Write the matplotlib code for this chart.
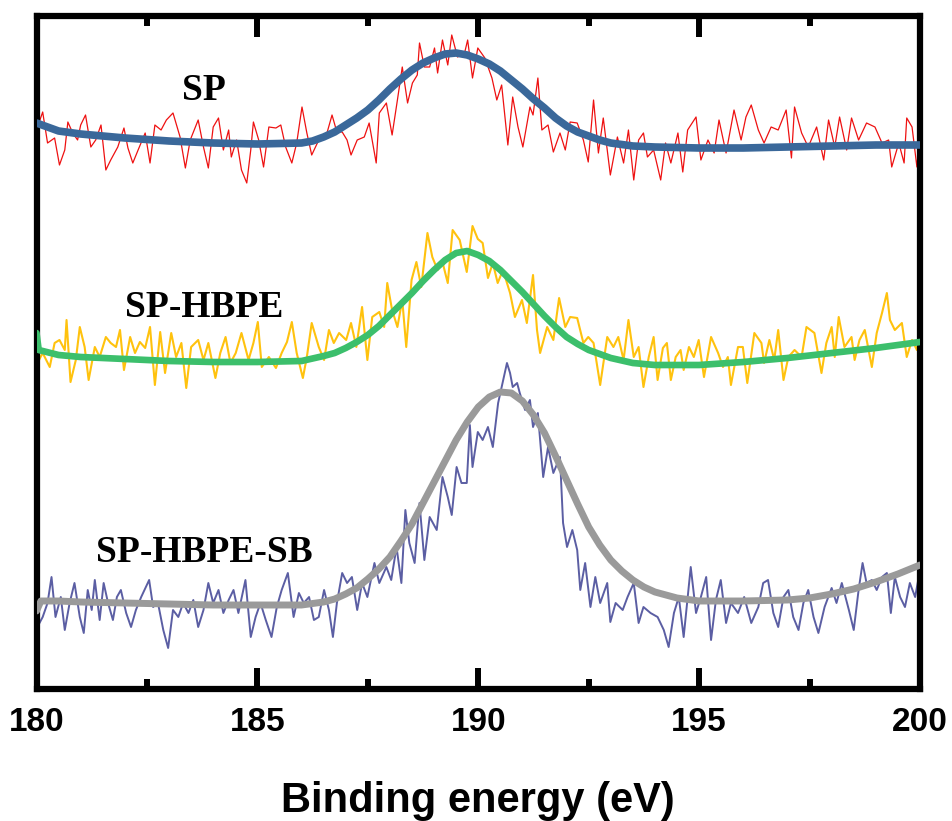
import matplotlib
matplotlib.use('Agg')
import matplotlib.pyplot as plt
from matplotlib.ticker import MultipleLocator
import numpy as np

# B 1s spectra, intensity in arbitrary units (traces stacked with offsets)

# SP raw trace
sp_e = [180.00, 180.14, 180.25, 180.41, 180.52, 180.64, 180.71, 180.82, 180.93, 181.00,
        181.11, 181.23, 181.34, 181.46, 181.57, 181.68, 181.84, 181.98, 182.07, 182.18,
        182.30, 182.46, 182.57, 182.68, 182.82, 182.94, 183.09, 183.25, 183.37, 183.48,
        183.66, 183.78, 183.89, 184.00, 184.12, 184.23, 184.35, 184.41, 184.53, 184.64,
        184.76, 184.85, 184.91, 185.03, 185.14, 185.26, 185.42, 185.53, 185.64, 185.78,
        185.89, 186.01, 186.12, 186.23, 186.39, 186.55, 186.69, 186.80, 186.92, 187.03,
        187.12, 187.26, 187.42, 187.53, 187.69, 187.76, 187.92, 188.05, 188.17, 188.28,
        188.40, 188.51, 188.62, 188.67, 188.78, 188.90, 189.01, 189.08, 189.19, 189.31,
        189.40, 189.53, 189.69, 189.76, 189.87, 189.99, 190.15, 190.31, 190.42, 190.53,
        190.67, 190.78, 190.90, 191.01, 191.17, 191.24, 191.35, 191.44, 191.58, 191.70,
        191.85, 191.97, 192.08, 192.24, 192.38, 192.49, 192.61, 192.72, 192.83, 192.99,
        193.15, 193.29, 193.40, 193.52, 193.63, 193.74, 193.83, 193.97, 194.13, 194.24,
        194.36, 194.52, 194.63, 194.74, 194.93, 195.04, 195.20, 195.34, 195.45, 195.61,
        195.79, 195.95, 196.06, 196.18, 196.34, 196.47, 196.63, 196.79, 196.97, 197.09,
        197.16, 197.32, 197.47, 197.66, 197.82, 197.93, 198.07, 198.18, 198.34, 198.45,
        198.61, 198.79, 198.98, 199.14, 199.29, 199.36, 199.52, 199.64, 199.70, 199.82,
        199.93, 200.00]
sp_y = [559, 577, 546, 551, 524, 539, 567, 556, 549, 564,
        574, 542, 549, 564, 519, 529, 542, 561, 541, 526,
        539, 556, 526, 564, 559, 569, 576, 552, 521, 549,
        569, 542, 521, 562, 571, 539, 559, 532, 549, 519,
        506, 539, 567, 549, 522, 562, 561, 564, 542, 526,
        546, 582, 556, 534, 549, 552, 574, 557, 557, 549,
        534, 549, 552, 566, 526, 576, 586, 554, 589, 622,
        586, 606, 614, 646, 622, 622, 641, 616, 649, 624,
        654, 632, 636, 649, 611, 641, 631, 611, 589, 604,
        544, 592, 562, 542, 582, 574, 611, 559, 564, 537,
        556, 539, 567, 566, 549, 527, 589, 536, 571, 514,
        552, 526, 559, 509, 549, 556, 532, 539, 509, 546,
        526, 556, 517, 559, 572, 529, 549, 536, 569, 536,
        579, 549, 572, 584, 559, 546, 562, 559, 579, 531,
        582, 556, 542, 562, 529, 569, 542, 572, 539, 571,
        549, 566, 562, 546, 549, 522, 546, 526, 571, 562,
        522, 557]

# SP fitted curve
sp_fit_e = [180, 180.5, 181, 182, 183, 184, 185, 186, 186.25, 186.5, 186.75,
            187, 187.25, 187.5, 187.75, 188, 188.25, 188.5, 188.75, 189, 189.25,
            189.5, 189.75, 190, 190.25, 190.5, 190.75, 191, 191.25, 191.5, 191.75,
            192, 192.25, 192.5, 192.75, 193, 193.5, 194, 195, 196, 197, 198, 199, 200]
sp_fit_y = [566, 558, 555, 551, 548, 546, 545, 546, 548, 552, 557,
            564, 571, 579, 589, 600, 610, 619, 626, 631, 635,
            636, 634, 630, 625, 618, 609, 600, 590, 581, 571,
            563, 557, 553, 549, 546, 543, 542, 541, 541, 542, 543, 544, 544]

# SP-HBPE raw trace
hb_e = [180.02, 180.14, 180.30, 180.41, 180.52, 180.64, 180.68, 180.77, 180.89, 180.98,
        181.09, 181.18, 181.32, 181.43, 181.57, 181.68, 181.80, 181.89, 181.98, 182.12,
        182.23, 182.34, 182.46, 182.57, 182.68, 182.80, 182.91, 183.05, 183.16, 183.28,
        183.39, 183.50, 183.66, 183.78, 183.89, 184.05, 184.16, 184.28, 184.39, 184.51,
        184.64, 184.80, 184.91, 185.01, 185.10, 185.26, 185.42, 185.55, 185.67, 185.78,
        185.89, 186.03, 186.12, 186.23, 186.39, 186.51, 186.62, 186.73, 186.85, 187.01,
        187.12, 187.24, 187.37, 187.49, 187.60, 187.76, 187.87, 187.94, 188.05, 188.17,
        188.28, 188.37, 188.49, 188.60, 188.71, 188.85, 188.96, 189.08, 189.19, 189.31,
        189.42, 189.58, 189.74, 189.87, 189.99, 190.10, 190.22, 190.33, 190.44, 190.56,
        190.72, 190.83, 190.99, 191.10, 191.24, 191.33, 191.40, 191.56, 191.70, 191.83,
        191.97, 192.08, 192.24, 192.38, 192.49, 192.61, 192.76, 192.92, 193.06, 193.17,
        193.29, 193.40, 193.52, 193.63, 193.74, 193.86, 193.97, 194.06, 194.18, 194.27,
        194.36, 194.47, 194.58, 194.65, 194.77, 194.88, 194.99, 195.11, 195.27, 195.43,
        195.54, 195.65, 195.72, 195.88, 195.99, 196.09, 196.25, 196.41, 196.47, 196.59,
        196.70, 196.79, 196.91, 197.02, 197.16, 197.32, 197.43, 197.61, 197.77, 197.88,
        198.00, 198.07, 198.16, 198.29, 198.45, 198.52, 198.63, 198.75, 198.91, 199.02,
        199.14, 199.25, 199.32, 199.43, 199.59, 199.70, 199.82, 199.93, 200.00]
hb_y = [326, 336, 322, 346, 349, 339, 369, 307, 329, 362,
        342, 309, 342, 332, 352, 346, 342, 359, 319, 352,
        336, 347, 341, 362, 304, 357, 316, 356, 332, 346,
        301, 342, 349, 329, 346, 311, 336, 352, 326, 336,
        356, 329, 346, 367, 322, 332, 321, 336, 347, 367,
        336, 311, 332, 366, 342, 329, 359, 346, 356, 349,
        366, 342, 382, 329, 372, 377, 362, 406, 379, 362,
        389, 342, 409, 427, 402, 456, 432, 419, 427, 406,
        459, 449, 417, 463, 450, 446, 411, 426, 406, 419,
        396, 372, 389, 366, 414, 359, 336, 362, 349, 391,
        362, 372, 371, 346, 352, 346, 304, 352, 342, 352,
        329, 369, 332, 342, 302, 332, 352, 309, 341, 346,
        309, 332, 339, 319, 342, 332, 349, 312, 352, 336,
        322, 332, 304, 342, 342, 306, 356, 346, 326, 349,
        329, 359, 309, 332, 339, 332, 362, 356, 316, 346,
        362, 332, 372, 342, 352, 329, 349, 359, 322, 356,
        376, 396, 369, 359, 366, 332, 349, 339, 356]

# SP-HBPE fitted curve
hb_fit_e = [180, 180.05, 180.5, 181, 182, 183, 184, 185, 186, 186.5, 186.75,
            187, 187.25, 187.5, 187.75, 188, 188.25, 188.5, 188.75, 189, 189.25,
            189.5, 189.75, 190, 190.25, 190.5, 190.75, 191, 191.25, 191.5, 191.75,
            192, 192.25, 192.5, 192.75, 193, 193.5, 194, 195, 196, 197, 198, 199, 200]
hb_fit_y = [356, 339, 334, 332, 330, 328, 327, 327, 328, 333, 336,
            341, 347, 354, 363, 374, 385, 396, 408, 419, 429,
            436, 438, 434, 428, 419, 408, 397, 385, 373, 362,
            352, 345, 339, 335, 331, 326, 324, 324, 327, 331, 336, 341, 347]

# SP-HBPE-SB raw trace
sb_e = [180.02, 180.14, 180.25, 180.34, 180.43, 180.55, 180.64, 180.75, 180.86, 180.98,
        181.07, 181.16, 181.25, 181.32, 181.43, 181.52, 181.62, 181.73, 181.82, 181.91,
        182.03, 182.14, 182.25, 182.37, 182.55, 182.64, 182.75, 182.87, 182.98, 183.09,
        183.21, 183.32, 183.44, 183.55, 183.66, 183.78, 183.89, 184.00, 184.12, 184.23,
        184.35, 184.46, 184.57, 184.73, 184.85, 184.96, 185.07, 185.19, 185.32, 185.44,
        185.55, 185.69, 185.82, 185.94, 186.05, 186.17, 186.28, 186.39, 186.51, 186.62,
        186.71, 186.80, 186.92, 187.03, 187.14, 187.26, 187.37, 187.49, 187.65, 187.76,
        187.92, 188.03, 188.15, 188.26, 188.35, 188.44, 188.56, 188.67, 188.78, 188.90,
        189.06, 189.19, 189.31, 189.40, 189.51, 189.62, 189.74, 189.81, 189.87, 189.99,
        190.10, 190.22, 190.33, 190.45, 190.53, 190.65, 190.72, 190.78, 190.88, 190.94,
        191.06, 191.17, 191.24, 191.35, 191.47, 191.58, 191.70, 191.85, 191.92, 192.01,
        192.13, 192.24, 192.31, 192.42, 192.54, 192.65, 192.76, 192.92, 192.99, 193.11,
        193.27, 193.38, 193.52, 193.63, 193.74, 193.90, 194.06, 194.20, 194.31, 194.43,
        194.54, 194.65, 194.81, 194.93, 195.04, 195.16, 195.27, 195.38, 195.49, 195.61,
        195.72, 195.88, 196.02, 196.18, 196.34, 196.45, 196.56, 196.68, 196.79, 196.91,
        197.02, 197.13, 197.25, 197.36, 197.47, 197.59, 197.70, 197.84, 198.00, 198.11,
        198.23, 198.39, 198.50, 198.61, 198.70, 198.79, 198.91, 199.02, 199.14, 199.25,
        199.34, 199.43, 199.55, 199.66, 199.77, 199.89, 200.00]
sb_y = [62, 72, 86, 112, 72, 92, 59, 86, 106, 72,
        56, 99, 79, 109, 69, 106, 86, 69, 92, 99,
        76, 62, 79, 92, 109, 82, 86, 59, 41, 79,
        72, 86, 76, 89, 62, 79, 106, 86, 99, 76,
        89, 99, 76, 109, 52, 72, 86, 69, 52, 82,
        99, 116, 72, 96, 86, 92, 69, 72, 99, 79,
        52, 86, 116, 106, 112, 79, 106, 92, 126, 106,
        122, 109, 142, 106, 179, 146, 126, 186, 129, 172,
        159, 212, 192, 174, 222, 206, 206, 264, 222, 257,
        249, 262, 242, 286, 302, 326, 316, 302, 306, 296,
        279, 289, 262, 276, 212, 242, 216, 232, 166, 142,
        159, 139, 99, 126, 82, 112, 86, 106, 67, 86,
        79, 92, 106, 66, 82, 76, 72, 59, 42, 76,
        92, 52, 122, 76, 92, 112, 49, 89, 109, 66,
        86, 76, 92, 66, 82, 106, 109, 76, 62, 92,
        99, 72, 59, 86, 99, 72, 56, 82, 101, 86,
        106, 79, 59, 99, 126, 106, 109, 99, 112, 116,
        76, 112, 92, 82, 106, 92, 119]

# SP-HBPE-SB fitted curve
sb_fit_e = [180, 180.1, 180.5, 181, 182, 183, 184, 185, 186, 186.5, 186.75,
            187, 187.25, 187.5, 187.75, 188, 188.25, 188.5, 188.75, 189, 189.25,
            189.5, 189.75, 190, 190.25, 190.5, 190.75, 191, 191.25, 191.5, 191.75,
            192, 192.25, 192.5, 192.75, 193, 193.25, 193.5, 193.75, 194, 194.5,
            195, 196, 197, 197.5, 198, 198.5, 199, 199.5, 200]
sb_fit_y = [78, 88, 88, 87, 86, 85, 84, 84, 84, 87, 90,
            95, 101, 110, 120, 132, 148, 165, 186, 207, 228,
            249, 267, 282, 292, 297, 296, 288, 274, 256, 233,
            209, 185, 162, 144, 129, 118, 109, 102, 97, 91,
            88, 88, 89, 91, 95, 100, 107, 115, 124]

labels = ['SP', 'SP-HBPE', 'SP-HBPE-SB']
label_y = [589, 372, 127]
label_e = 183.8

fig = plt.figure(figsize=(9.52, 8.21), dpi=100)
ax = fig.add_axes([36.5/952, 1-689/821, (920-36.5)/952, (689-16.5)/821])

ax.plot(sp_e, sp_y, color='#ee1111', lw=0.9, zorder=2)
ax.plot(hb_e, hb_y, color='#ffc20e', lw=1.5, zorder=2)
ax.plot(sb_e, sb_y, color='#5b5ea3', lw=1.4, zorder=2)

ax.plot(sp_fit_e, sp_fit_y, color='#3a689a', lw=5.5, solid_capstyle='round',
        solid_joinstyle='round', zorder=3)
ax.plot(hb_fit_e, hb_fit_y, color='#3cbf6c', lw=4.8, solid_capstyle='round',
        solid_joinstyle='round', zorder=3)
ax.plot(sb_fit_e, sb_fit_y, color='#9a9a9a', lw=5.0, solid_capstyle='round',
        solid_joinstyle='round', zorder=3)

for lab, yy in zip(labels, label_y):
    ax.text(label_e, yy, lab, ha='center', va='baseline', fontsize=27,
            fontweight='bold', family=['Liberation Serif', 'DejaVu Serif'])

ax.set_xlim(180, 200)
ax.set_ylim(0, 672.5)
ax.xaxis.set_major_locator(MultipleLocator(5))
ax.xaxis.set_minor_locator(MultipleLocator(2.5))
ax.set_yticks([])
ax.tick_params(axis='x', which='major', direction='in', length=15, width=4.3,
               top=True, bottom=True, pad=13)
ax.tick_params(axis='x', which='minor', direction='in', length=7, width=4.3,
               top=True, bottom=True)
for sp in ax.spines.values():
    sp.set_linewidth(4.5)

tick_font = ['Liberation Sans Narrow', 'Liberation Sans', 'DejaVu Sans']
for t in ax.get_xticklabels():
    t.set_family(tick_font)
    t.set_fontweight('bold')
    t.set_fontsize(24)

ax.set_xlabel('Binding energy (eV)', fontsize=30, fontweight='bold',
              family=tick_font, labelpad=31)

fig.savefig('out.png', dpi=100)
